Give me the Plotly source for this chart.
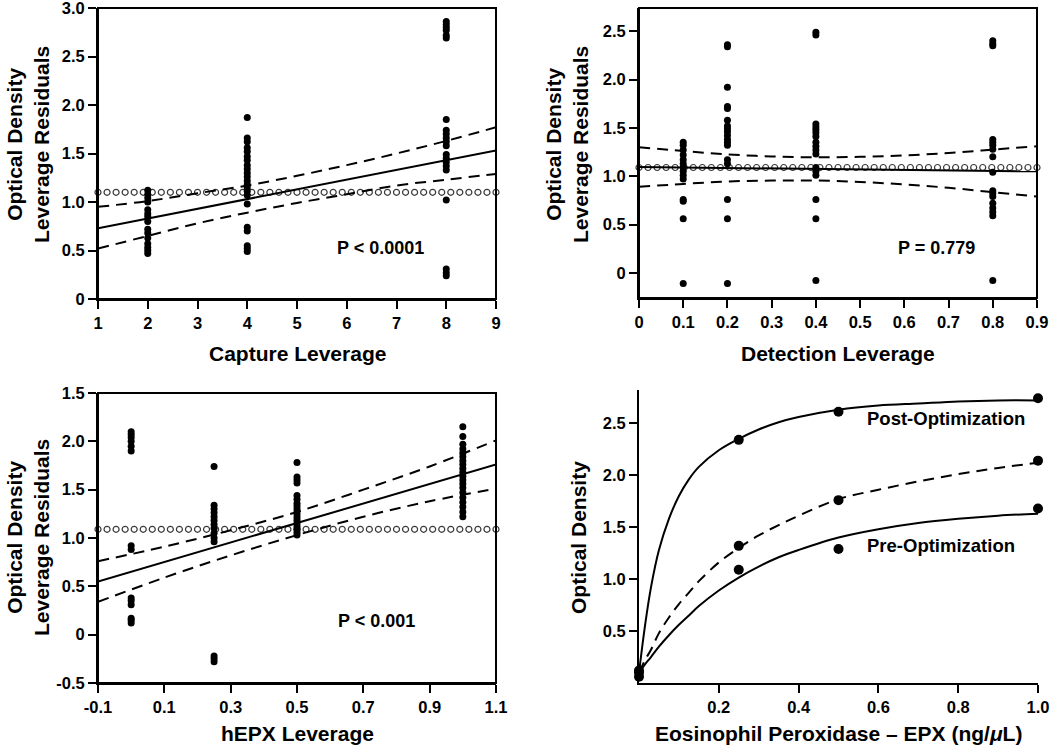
import numpy as np
import plotly.graph_objects as go

W, H = 1050, 750
FONT = "Liberation Sans, Arial, Helvetica, sans-serif"

# ---------------- Panel A: Capture leverage ----------------
cap_levels = [2, 4, 8]
cap_y = {
    2: [1.12, 1.08, 1.04, 1.00, 0.92, 0.88, 0.85, 0.80, 0.72, 0.68, 0.63, 0.57, 0.53, 0.50, 0.47],
    4: [1.87, 1.66, 1.62, 1.56, 1.52, 1.47, 1.43, 1.38, 1.34, 1.30, 1.26, 1.22, 1.18, 1.15,
        1.11, 1.07, 0.98, 0.74, 0.70, 0.55, 0.52, 0.49],
    8: [2.86, 2.83, 2.80, 2.77, 2.72, 2.69, 1.85, 1.74, 1.70, 1.66, 1.62, 1.58, 1.49, 1.45,
        1.41, 1.37, 1.33, 1.02, 0.31, 0.27, 0.24],
}
cap_fit_x = [1, 9]
cap_fit_y = [0.73, 1.53]
cap_band_x = [1, 2, 3, 4, 5, 6, 7, 8, 9]
cap_band_hi = [0.95, 1.01, 1.09, 1.17, 1.27, 1.38, 1.50, 1.63, 1.77]
cap_band_lo = [0.52, 0.65, 0.78, 0.89, 0.99, 1.08, 1.17, 1.23, 1.29]
cap_mean = 1.10
cap_xticks = [1, 2, 3, 4, 5, 6, 7, 8, 9]
cap_yticks = [0, 0.5, 1.0, 1.5, 2.0, 2.5, 3.0]
cap_yticktext = ["0", "0.5", "1.0", "1.5", "2.0", "2.5", "3.0"]

# ---------------- Panel B: Detection leverage ----------------
det_levels = [0.1, 0.2, 0.4, 0.8]
det_y = {
    0.1: [1.35, 1.32, 1.27, 1.22, 1.17, 1.13, 1.09, 1.05, 1.01, 0.97, 0.76, 0.74, 0.56, -0.11],
    0.2: [2.36, 2.34, 1.92, 1.72, 1.70, 1.58, 1.52, 1.49, 1.46, 1.42, 1.38, 1.35, 1.32, 1.17,
          1.13, 0.76, 0.56, -0.11],
    0.4: [2.49, 2.46, 1.54, 1.51, 1.48, 1.45, 1.41, 1.35, 1.31, 1.27, 1.23, 1.09, 1.05, 1.01,
          0.76, 0.56, -0.08],
    0.8: [2.40, 2.37, 2.35, 1.38, 1.35, 1.32, 1.28, 1.20, 1.04, 0.85, 0.82, 0.79, 0.72, 0.67,
          0.63, 0.59, -0.08],
}
det_fit_x = [0, 0.9]
det_fit_y = [1.095, 1.05]
det_band_x = [0, 0.1, 0.2, 0.3, 0.4, 0.5, 0.6, 0.7, 0.8, 0.9]
det_band_hi = [1.30, 1.26, 1.225, 1.205, 1.195, 1.20, 1.215, 1.24, 1.275, 1.31]
det_band_lo = [0.89, 0.92, 0.945, 0.955, 0.955, 0.94, 0.915, 0.88, 0.835, 0.79]
det_mean = 1.09
det_xticks = [0, 0.1, 0.2, 0.3, 0.4, 0.5, 0.6, 0.7, 0.8, 0.9]
det_xticktext = ["0", "0.1", "0.2", "0.3", "0.4", "0.5", "0.6", "0.7", "0.8", "0.9"]
det_yticks = [0, 0.5, 1.0, 1.5, 2.0, 2.5]
det_yticktext = ["0", "0.5", "1.0", "1.5", "2.0", "2.5"]

# ---------------- Panel C: hEPX leverage ----------------
hepx_levels = [0, 0.25, 0.5, 1.0]
hepx_y = {
    0: [2.10, 2.07, 2.04, 2.00, 1.95, 1.90, 0.92, 0.88, 0.38, 0.35, 0.31, 0.17, 0.15, 0.12],
    0.25: [1.74, 1.34, 1.30, 1.26, 1.22, 1.18, 1.14, 1.10, 1.05, 1.00, 0.96, -0.22, -0.25, -0.28],
    0.5: [1.78, 1.63, 1.60, 1.57, 1.44, 1.40, 1.36, 1.33, 1.30, 1.27, 1.24, 1.21, 1.18, 1.15,
          1.12, 1.09, 1.06, 1.03],
    1.0: [2.15, 2.05, 1.97, 1.92, 1.88, 1.84, 1.80, 1.76, 1.72, 1.68, 1.64, 1.60, 1.56, 1.52,
          1.47, 1.42, 1.37, 1.32, 1.27, 1.22],
}
hepx_fit_x = [-0.1, 1.1]
hepx_fit_y = [0.55, 1.76]
hepx_band_x = [-0.1, 0.1, 0.3, 0.5, 0.7, 0.9, 1.1]
hepx_band_hi = [0.76, 0.91, 1.08, 1.27, 1.50, 1.74, 2.01]
hepx_band_lo = [0.34, 0.59, 0.82, 1.03, 1.22, 1.38, 1.51]
hepx_mean = 1.09
hepx_xticks = [-0.1, 0.1, 0.3, 0.5, 0.7, 0.9, 1.1]
hepx_xticktext = ["-0.1", "0.1", "0.3", "0.5", "0.7", "0.9", "1.1"]
hepx_yticks = [-0.5, 0, 0.5, 1.0, 1.5, 2.0, 2.5]
hepx_yticktext = ["-0.5", "0", "0.5", "1.0", "1.5", "2.0", "1.5"]

# ---------------- Panel D: EPX standard curves ----------------
epx_x = [0, 0.25, 0.5, 1.0]
post_y = [0.12, 2.34, 2.61, 2.74]
mid_y = [0.10, 1.32, 1.76, 2.14]
pre_y = [0.06, 1.09, 1.29, 1.68]
curve_x = [0, 0.015, 0.03, 0.05, 0.075, 0.1, 0.125, 0.15, 0.2, 0.25, 0.3, 0.35, 0.4, 0.5,
           0.6, 0.7, 0.8, 0.9, 1.0]
post_curve = [0.10, 0.55, 0.92, 1.28, 1.58, 1.80, 1.96, 2.08, 2.24, 2.35, 2.44, 2.51, 2.56,
              2.63, 2.67, 2.69, 2.71, 2.72, 2.72]
mid_curve = [0.10, 0.22, 0.32, 0.48, 0.63, 0.76, 0.87, 0.98, 1.16, 1.30, 1.42, 1.52, 1.61,
             1.77, 1.86, 1.94, 2.01, 2.07, 2.12]
pre_curve = [0.10, 0.18, 0.25, 0.35, 0.46, 0.56, 0.65, 0.74, 0.89, 1.015, 1.12, 1.21, 1.28,
             1.40, 1.48, 1.54, 1.58, 1.61, 1.63]
epx_xticks = [0.2, 0.4, 0.6, 0.8, 1.0]
epx_xticktext = ["0.2", "0.4", "0.6", "0.8", "1.0"]
epx_yticks = [0.5, 1.0, 1.5, 2.0, 2.5]
epx_yticktext = ["0.5", "1.0", "1.5", "2.0", "2.5"]

# ---------------- layout geometry (page pixels) ----------------
def fx(p):
    return p / W


def fy(p):
    return 1 - p / H


panels = {
    "A": dict(xd=(98, 496), yd=(8, 299)),
    "B": dict(xd=(639, 1037), yd=(8, 298)),
    "C": dict(xd=(98, 496), yd=(393, 683)),
    "D": dict(xd=(639, 1038), yd=(390, 683)),
}

fig = go.Figure()

DOT = dict(color="black", size=7)
LINE = dict(color="black", width=2)
DASH = dict(color="black", width=2, dash="11px,7px")
MEANMK = dict(symbol="circle-open", size=6, color="#3a3a3a", line=dict(width=1.2, color="#3a3a3a"))


def residual_panel(xa, ya, levels, ydict, fit_x, fit_y, band_x, hi, lo, mean, xrange):
    xs, ys = [], []
    for lv in levels:
        xs += [lv] * len(ydict[lv])
        ys += ydict[lv]
    n_mean = 45
    mx = np.linspace(xrange[0], xrange[1], n_mean)
    fig.add_trace(go.Scatter(x=mx, y=[mean] * n_mean, mode="markers", marker=MEANMK,
                             xaxis=xa, yaxis=ya, showlegend=False, cliponaxis=False))
    fig.add_trace(go.Scatter(x=band_x, y=hi, mode="lines", line=DASH, line_shape="spline",
                             xaxis=xa, yaxis=ya, showlegend=False))
    fig.add_trace(go.Scatter(x=band_x, y=lo, mode="lines", line=DASH, line_shape="spline",
                             xaxis=xa, yaxis=ya, showlegend=False))
    fig.add_trace(go.Scatter(x=fit_x, y=fit_y, mode="lines", line=LINE,
                             xaxis=xa, yaxis=ya, showlegend=False))
    fig.add_trace(go.Scatter(x=xs, y=ys, mode="markers", marker=DOT,
                             xaxis=xa, yaxis=ya, showlegend=False))


residual_panel("x", "y", cap_levels, cap_y, cap_fit_x, cap_fit_y, cap_band_x,
               cap_band_hi, cap_band_lo, cap_mean, (1, 9))
residual_panel("x2", "y2", det_levels, det_y, det_fit_x, det_fit_y, det_band_x,
               det_band_hi, det_band_lo, det_mean, (0, 0.9))
residual_panel("x3", "y3", hepx_levels, hepx_y, hepx_fit_x, hepx_fit_y, hepx_band_x,
               hepx_band_hi, hepx_band_lo, hepx_mean, (-0.1, 1.1))

# Panel D
fig.add_trace(go.Scatter(x=curve_x, y=post_curve, mode="lines", line=LINE, line_shape="spline",
                         xaxis="x4", yaxis="y4", showlegend=False))
fig.add_trace(go.Scatter(x=curve_x, y=mid_curve, mode="lines", line=DASH, line_shape="spline",
                         xaxis="x4", yaxis="y4", showlegend=False))
fig.add_trace(go.Scatter(x=curve_x, y=pre_curve, mode="lines", line=LINE, line_shape="spline",
                         xaxis="x4", yaxis="y4", showlegend=False))
for ys in (post_y, mid_y, pre_y):
    fig.add_trace(go.Scatter(x=epx_x, y=ys, mode="markers", marker=dict(color="black", size=10),
                             xaxis="x4", yaxis="y4", showlegend=False, cliponaxis=False))

TICKFONT = dict(family=FONT, size=16.5, color="black", weight="bold")


def axis(dom, rng, tickvals, ticktext, anchor=None):
    d = dict(domain=dom, range=rng, tickvals=tickvals, ticktext=ticktext,
             showline=True, linecolor="black", linewidth=2, mirror=False,
             ticks="outside", ticklen=8, tickwidth=2, tickcolor="black",
             showgrid=False, zeroline=False, tickfont=TICKFONT, fixedrange=True,
             automargin=False, ticklabeloverflow="allow")
    if anchor:
        d["anchor"] = anchor
    return d


def xdom(k):
    a, b = panels[k]["xd"]
    return [fx(a), fx(b)]


def ydom(k):
    a, b = panels[k]["yd"]
    return [fy(b), fy(a)]


fig.update_layout(
    template="none",
    width=W, height=H,
    margin=dict(l=0, r=0, t=0, b=0, pad=0),
    paper_bgcolor="white", plot_bgcolor="white",
    font=dict(family=FONT, color="black"),
    xaxis=axis(xdom("A"), [1, 9], cap_xticks, [str(v) for v in cap_xticks], anchor="y"),
    yaxis=axis(ydom("A"), [0, 3], cap_yticks, cap_yticktext, anchor="x"),
    xaxis2=axis(xdom("B"), [0, 0.9], det_xticks, det_xticktext, anchor="y2"),
    yaxis2=axis(ydom("B"), [-0.26, 2.74], det_yticks, det_yticktext, anchor="x2"),
    xaxis3=axis(xdom("C"), [-0.1, 1.1], hepx_xticks, hepx_xticktext, anchor="y3"),
    yaxis3=axis(ydom("C"), [-0.5, 2.5], hepx_yticks, hepx_yticktext, anchor="x3"),
    xaxis4=axis(xdom("D"), [0, 1.0], epx_xticks, epx_xticktext, anchor="y4"),
    yaxis4=axis(ydom("D"), [0, 2.82], epx_yticks, epx_yticktext, anchor="x4"),
)

# closed frames for the three residual panels
for xr, yr in (("x", "y"), ("x2", "y2"), ("x3", "y3")):
    fig.add_shape(type="rect", xref=f"{xr} domain", yref=f"{yr} domain",
                  x0=0, x1=1, y0=0, y1=1, line=dict(color="black", width=2),
                  fillcolor="rgba(0,0,0,0)", layer="above")


def text(px, py, s, size=21, angle=0, xanchor="center"):
    fig.add_annotation(x=fx(px), y=fy(py), xref="paper", yref="paper", text=s,
                       showarrow=False, textangle=angle, xanchor=xanchor, yanchor="middle",
                       font=dict(family=FONT, size=size, color="black", weight="bold"))


# x-axis titles
text(297, 353, "Capture Leverage")
text(838, 353, "Detection Leverage")
text(297, 733, "hEPX Leverage")
text(838, 733, "Eosinophil Peroxidase – EPX (ng/<i>μ</i>L)")
# y-axis titles
text(28, 145, "Optical Density<br>Leverage Residuals", size=21, angle=-90)
text(567, 145, "Optical Density<br>Leverage Residuals", size=21, angle=-90)
text(28, 538, "Optical Density<br>Leverage Residuals", size=21, angle=-90)
text(578, 538, "Optical Density", size=21, angle=-90)
# statistics
text(380, 248, "P < 0.0001", size=18)
text(936, 248, "P = 0.779", size=18)
text(376, 621, "P < 0.001", size=18)
# curve labels
text(865, 418, "Post-Optimization", size=18.5, xanchor="left")
text(865, 545, "Pre-Optimization", size=18.5, xanchor="left")

fig.write_html(
    "out.html",
    config={"displayModeBar": False},
    post_script="document.body.style.margin='0';document.body.style.overflow='hidden';",
)
